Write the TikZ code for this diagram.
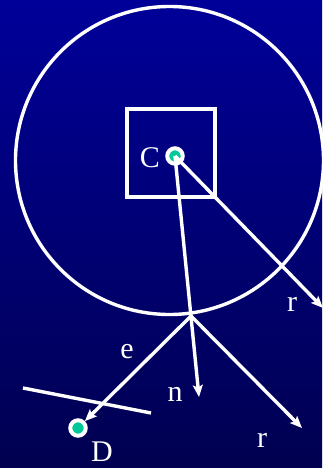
\documentclass[tikz,border=0pt]{standalone}
\usepackage{fontspec}
\setmainfont{Liberation Serif}
\usetikzlibrary{arrows.meta}
\definecolor{bgtop}{RGB}{0,0,153}
\definecolor{bgbot}{RGB}{0,0,80}
\definecolor{dotgreen}{RGB}{0,200,150}
\tikzset{
  wline/.style={draw=white, line width=3.4pt},
  warrow/.style={wline, -{Stealth[length=12pt, width=10pt, inset=2.5pt]}},
  dotnode/.style={circle, fill=dotgreen, draw=white, line width=4pt, minimum size=15.5pt, inner sep=0pt},
  lbl/.style={text=white, inner sep=0pt, font=\fontsize{30}{32}\selectfont},
}
\begin{document}
\begin{tikzpicture}[x=1pt, y=-1pt]
\useasboundingbox (0,0) rectangle (322,468);
\shade[top color=bgtop, bottom color=bgbot] (0,0) rectangle (322,468);
% big circle
\node[wline, circle, minimum size=308pt, inner sep=0pt] (ring) at (169.5,160.5) {};
% square
\node[draw=white, line width=3.8pt, minimum size=88pt, inner sep=0pt] (sq) at (171,153) {};
% plane segment
\coordinate (pl1) at (23,388);
\coordinate (pl2) at (151,413);
\draw[wline] (pl1) -- (pl2);
% dots
\node[dotnode] (Cdot) at (175,156) {};
\node[dotnode] (Ddot) at (78,428) {};
% points
\coordinate (P) at (191,316);
\coordinate (ntip) at (199,397);
\coordinate (r1tip) at (323,308);
\coordinate (r2tip) at (302,428);
% arrows
\draw[warrow] (Cdot.center) -- (ntip);
\draw[warrow] (Cdot.center) -- (r1tip);
\draw[warrow] (P) -- (r2tip);
\draw[warrow] (P) -- (Ddot);
% labels
\node[lbl] (lC) at (150,158) {C};
\node[lbl] (lr1) at (292,304) {r};
\node[lbl] (ln) at (175,394) {n};
\node[lbl] (lr2) at (262,440) {r};
\node[lbl] (le) at (127,352) {e};
\node[lbl] (lD) at (102,452) {D};
\end{tikzpicture}
\end{document}
